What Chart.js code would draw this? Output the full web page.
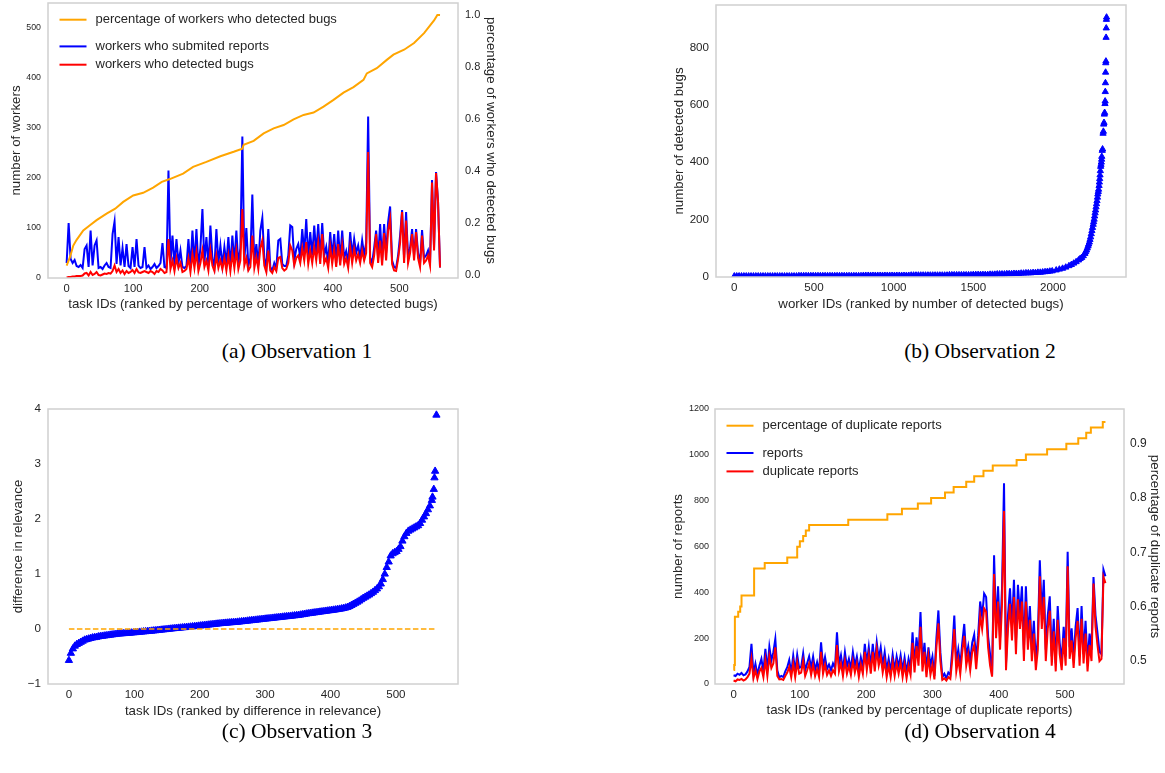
<!DOCTYPE html>
<html>
<head>
<meta charset="utf-8">
<script src="https://cdn.jsdelivr.net/npm/chart.js@4"></script>
<style>
  body { margin: 0; background: #fff; width: 1165px; height: 773px; position: relative; overflow: hidden; }
  canvas { position: absolute; }
  .cap { position: absolute; font-family: "Liberation Serif", "Times New Roman", serif; font-size: 21.5px;
         line-height: 22px; color: #000; transform: translateX(-50%); white-space: nowrap; }
</style>
</head>
<body>
<canvas id="obs1" style="left:0;top:0" width="520" height="320"></canvas>
<canvas id="obs2" style="left:640px;top:0" width="500" height="320"></canvas>
<canvas id="obs3" style="left:0;top:390px" width="520" height="340"></canvas>
<canvas id="obs4" style="left:640px;top:390px" width="525" height="340"></canvas>
<div class="cap" style="left:297px;top:340px">(a) Observation 1</div>
<div class="cap" style="left:980px;top:340px">(b) Observation 2</div>
<div class="cap" style="left:297px;top:720px">(c) Observation 3</div>
<div class="cap" style="left:980px;top:720px">(d) Observation 4</div>
<script>
// ---- (a) workers per task, ranked by share of workers who detected bugs ----
const taskIdsA = Array.from({ length: 188 }, (_, i) => i * 3);
const submittedA = [
  30,110,38,30,36,24,22,26,20,58,
  65,22,95,25,65,75,20,22,18,25,
  30,22,20,88,113,28,82,25,60,22,
  68,24,20,62,22,78,25,20,22,62,
  20,25,18,22,28,20,24,30,70,22,
  20,215,30,85,25,78,30,55,22,20,
  24,78,20,95,28,98,22,60,138,30,
  82,25,105,40,22,98,30,65,25,62,
  28,82,22,85,30,95,28,60,283,35,
  100,25,40,167,30,68,25,95,120,40,
  20,98,22,15,30,20,75,78,28,24,
  24,45,105,102,35,58,68,40,98,50,
  118,40,92,45,105,50,108,40,110,45,
  62,30,92,40,88,30,95,35,95,40,
  54,30,92,45,78,50,65,40,75,45,
  70,323,41,30,60,95,40,108,35,108,
  50,112,143,35,22,20,45,85,136,40,
  132,41,60,98,45,98,50,30,96,40,
  45,55,30,196,60,212,153,21
];
const detectedA = [
  1,2,2,3,3,4,4,4,5,9,
  10,5,12,6,8,12,6,5,7,9,
  8,10,9,14,25,12,18,10,15,8,
  14,10,12,16,10,18,11,10,12,14,
  12,10,14,12,8,14,12,18,15,10,
  12,78,18,35,14,40,20,30,12,14,
  18,40,12,48,20,52,14,30,55,22,
  35,15,55,25,14,45,20,35,18,40,
  15,45,14,50,20,55,18,35,138,25,
  40,15,22,85,20,42,18,60,75,25,
  12,55,15,10,22,14,40,42,20,15,
  18,30,65,55,25,40,45,30,60,35,
  72,28,55,30,62,35,71,28,88,30,
  40,20,62,28,58,22,68,25,65,28,
  40,20,62,30,58,35,48,30,55,35,
  50,252,30,22,45,88,30,75,25,90,
  35,95,118,28,15,14,38,70,132,30,
  115,30,50,88,35,92,40,22,85,30,
  35,45,25,191,55,210,153,21
];
const pctIdsA = [0,5,10,15,25,35,45,60,73,85,100,115,130,143,155,175,190,210,231,251,264,266,281,296,311,326,341,356,371,386,401,416,431,446,451,466,481,491,507,522,537,552,557,561];
const pctDetectedA = [0.035,0.067,0.112,0.134,0.17,0.19,0.21,0.235,0.254,0.28,0.305,0.315,0.335,0.357,0.368,0.389,0.415,0.434,0.456,0.473,0.485,0.5,0.515,0.544,0.563,0.576,0.598,0.615,0.624,0.647,0.673,0.701,0.722,0.75,0.775,0.795,0.827,0.847,0.866,0.892,0.93,0.979,1.0,1.0];

// ---- (b) detected bugs per worker ----
const workerIdsB = Array.from({ length: 134 }, (_, i) => i * 15).concat([
  2020,2040,2060,2080,2100,2115,2130,2145,2160,2170,2180,2190,2200,2205,2210,2215,2220,2224,2228,2232,
  2236,2240,2244,2248,2252,2255,2258,2261,2264,2267,2270,2273,2276,2279,2281,2284,2286,2289,2291,2293,
  2295,2297,2299,2301,2303,2305,2306,2309,2311,2314,2316,2318,2320,2322,2324,2326,2327,2328,2329,2330,
  2331,2332,2333,2334,2335,2336
]);
const bugsB = [
  1,1,1,1,1,1,1,1,1,1,1,1,1,1,1,1,1,1,1,1,1,1,1,1,1,1,1,
  2,2,2,2,2,2,2,2,2,2,2,2,2,2,2,2,2,2,2,2,2,2,2,2,2,2,2,
  3,3,3,3,3,3,3,3,3,3,3,3,3,3,3,3,3,3,3,3,
  4,4,4,4,4,4,4,4,4,4,4,4,4,4,4,4,
  5,5,5,5,5,5,5,5,5,5,
  6,6,6,6,6,6,6,
  7,7,7,8,8,8,8,
  9,9,9,10,10,10,11,
  11,12,12,12,13,13,14,
  14,15,16,17,18,19,
  22,25,28,32,37,41,46,51,57,62,66,72,80,86,92,99,106,113,120,129,
  138,149,160,171,182,191,200,211,222,232,243,254,265,277,288,297,305,318,330,342,
  355,370,385,392,400,410,420,441,446,501,508,533,539,568,574,605,614,647,678,715,
  748,754,837,870,900,908
];

// ---- (c) difference in relevance ----
const taskIdsC = Array.from({ length: 187 }, (_, i) => i * 3).concat([556, 559, 560, 562]);
const relevanceDiffC = [
  -0.57,-0.44,-0.36,-0.31,-0.28,-0.26,-0.24,-0.22,-0.2,-0.19,
  -0.18,-0.17,-0.16,-0.155,-0.15,-0.14,-0.135,-0.13,-0.125,-0.12,
  -0.115,-0.11,-0.105,-0.1,-0.095,-0.09,-0.088,-0.085,-0.082,-0.08,
  -0.077,-0.074,-0.07,-0.067,-0.064,-0.06,-0.057,-0.054,-0.05,-0.047,
  -0.044,-0.04,-0.037,-0.033,-0.03,-0.026,-0.022,-0.018,-0.014,-0.01,
  -0.006,-0.002,0.002,0.006,0.01,0.013,0.017,0.02,0.024,0.027,
  0.031,0.035,0.038,0.042,0.046,0.05,0.054,0.058,0.062,0.066,
  0.07,0.074,0.078,0.082,0.086,0.09,0.094,0.098,0.102,0.106,
  0.108,0.111,0.114,0.117,0.12,0.123,0.126,0.13,0.134,0.138,
  0.142,0.146,0.15,0.154,0.158,0.162,0.166,0.17,0.174,0.178,
  0.182,0.186,0.19,0.194,0.198,0.202,0.206,0.21,0.214,0.218,
  0.222,0.226,0.23,0.234,0.238,0.242,0.246,0.25,0.256,0.262,
  0.268,0.274,0.28,0.285,0.29,0.295,0.3,0.305,0.31,0.315,
  0.32,0.325,0.33,0.335,0.34,0.345,0.35,0.356,0.362,0.368,
  0.376,0.384,0.395,0.41,0.43,0.45,0.47,0.49,0.51,0.535,
  0.56,0.58,0.6,0.62,0.645,0.67,0.7,0.73,0.77,0.82,
  0.9,1.0,1.12,1.22,1.33,1.37,1.39,1.41,1.45,1.5,
  1.6,1.68,1.74,1.78,1.8,1.82,1.84,1.86,1.88,1.92,
  1.98,2.04,2.1,2.17,2.24,2.34,2.54,
  2.4,2.75,2.87,3.89
];
const zeroLineIdsC = [0, 561];
const zeroLineC = [0, 0];

// ---- (d) reports per task, ranked by share of duplicates ----
const taskIdsD = Array.from({ length: 188 }, (_, i) => i * 3);
const reportsD = [
  38,35,45,40,48,38,42,55,75,175,
  45,88,40,80,110,55,153,60,163,102,
  139,197,60,29,35,30,55,73,105,50,
  124,55,128,70,75,134,60,90,120,70,
  120,60,95,55,182,75,118,65,85,60,
  90,70,226,85,125,60,139,75,110,65,
  139,80,120,60,115,70,175,90,161,75,
  175,85,182,110,160,80,139,60,110,55,
  128,60,120,75,125,60,115,50,110,70,
  226,80,204,120,314,90,180,60,160,80,
  120,35,200,321,139,30,45,25,50,40,
  150,299,90,150,80,180,262,120,165,100,
  180,215,110,212,360,295,395,380,207,130,
  40,562,250,426,200,420,876,90,300,418,
  250,455,180,433,300,426,150,426,200,340,
  150,276,100,200,540,300,455,150,300,383,
  120,285,90,340,180,100,250,120,577,160,
  243,110,250,331,120,340,130,276,90,220,
  150,467,301,223,140,130,499,470
];
const duplicatesD = [
  15,12,20,18,22,15,20,30,45,110,
  25,60,22,55,70,30,105,35,120,70,
  90,160,35,20,22,18,35,50,75,30,
  90,30,95,45,50,100,35,60,90,40,
  85,35,65,30,140,45,85,40,60,35,
  60,45,170,55,90,35,100,45,80,40,
  100,50,90,30,85,45,140,60,125,45,
  140,55,150,80,120,50,100,30,80,30,
  95,35,90,45,95,30,85,25,80,40,
  180,50,165,80,250,55,140,30,120,40,
  85,20,160,265,100,18,25,15,30,22,
  110,240,55,110,45,140,210,80,130,60,
  140,170,65,170,300,240,330,315,160,80,
  32,480,200,360,150,350,755,60,240,350,
  190,380,130,370,240,360,100,360,150,280,
  100,220,60,150,470,240,380,100,240,320,
  80,230,55,280,130,60,200,80,514,110,
  190,70,200,275,80,285,90,220,55,170,
  100,438,250,170,100,110,467,440
];
const pctIdsD = [0,1,2,7,10,12,31,47,81,96,100,105,109,114,173,232,254,278,298,319,332,351,363,377,391,427,441,473,502,520,532,539,557,561];
const pctDuplicateD = [0.483,0.492,0.581,0.59,0.60,0.62,0.67,0.68,0.69,0.71,0.72,0.73,0.74,0.75,0.76,0.77,0.78,0.79,0.80,0.81,0.82,0.83,0.84,0.85,0.86,0.87,0.88,0.89,0.90,0.91,0.92,0.93,0.94,0.94];

const FONT = '"Liberation Sans", Arial, sans-serif';
const INK = '#262626';
const BLUE = '#0000ff', RED = '#ff0000', ORANGE = '#ffa500';
Chart.defaults.font.family = FONT;
Chart.defaults.color = INK;
Chart.defaults.animation = false;

const pts = (xs, ys) => ys.map((y, i) => ({ x: xs[i], y: y }));
const plain = v => String(v);
const oneDec = v => v.toFixed(1);
const minus = v => (v < 0 ? '\u2212' + Math.abs(v) : String(v));

// light grey box round the plot area
const frame = {
  id: 'frame',
  afterDatasetsDraw(chart) {
    const a = chart.chartArea, ctx = chart.ctx;
    ctx.save();
    ctx.strokeStyle = '#d0d0d0';
    ctx.lineWidth = 1.5;
    ctx.strokeRect(a.left, a.top, a.right - a.left, a.bottom - a.top);
    ctx.restore();
  }
};

// legend drawn inside the plot, top-left, like matplotlib's loc=2
const insideLegend = {
  id: 'insideLegend',
  afterDraw(chart, args, opts) {
    if (!opts.items) return;
    const a = chart.chartArea, ctx = chart.ctx;
    ctx.save();
    ctx.font = '13px ' + FONT;
    ctx.textBaseline = 'middle';
    opts.items.forEach(it => {
      const ds = chart.data.datasets[it.index];
      const y = a.top + it.dy;
      ctx.strokeStyle = ds.borderColor;
      ctx.lineWidth = 2;
      ctx.beginPath();
      ctx.moveTo(a.left + 11.5, y);
      ctx.lineTo(a.left + 38.5, y);
      ctx.stroke();
      ctx.fillStyle = INK;
      ctx.fillText(ds.label, a.left + 47.5, y);
    });
    ctx.restore();
  }
};

function axis(o) {
  const vertical = o.position !== 'bottom';
  const ticks = { includeBounds: false, padding: o.pad, color: INK,
                  font: { size: o.size }, maxRotation: 0, autoSkip: false, callback: o.fmt || plain };
  if (o.step) ticks.stepSize = o.step;
  return {
    type: 'linear', position: o.position, min: o.min, max: o.max,
    grid: { display: false, drawTicks: false },
    border: { display: false },
    ticks: ticks,
    title: { display: true, text: o.title, color: INK, font: { size: 13.3 }, padding: o.tpad },
    afterFit: s => {
      if (vertical) s.width = o.box; else s.height = o.box;
      s.paddingTop = s.paddingBottom = s.paddingLeft = s.paddingRight = 0;
    }
  };
}

function lineSet(label, data, color, axisId) {
  return { label: label, data: data, borderColor: color, backgroundColor: color, borderWidth: 2,
           pointRadius: 0, tension: 0, yAxisID: axisId || 'y' };
}

const basePlugins = { legend: { display: false }, tooltip: { enabled: false } };

// (a)
new Chart(document.getElementById('obs1'), {
  type: 'line',
  data: {
    datasets: [
      lineSet('percentage of workers who detected bugs', pts(pctIdsA, pctDetectedA), ORANGE, 'y1'),
      lineSet('workers who detected bugs', pts(taskIdsA, detectedA), RED),
      lineSet('workers who submited reports', pts(taskIdsA, submittedA), BLUE)
    ]
  },
  options: {
    responsive: false,
    layout: { padding: { top: 3, left: 0, right: 0, bottom: 0 } },
    scales: {
      x: axis({ position: 'bottom', min: -28, max: 588, step: 100, size: 11.2, pad: 4, box: 42,
                title: 'task IDs (ranked by percentage of workers who detected bugs)', tpad: { top: 0, bottom: 8 } }),
      y: axis({ position: 'left', min: 0, max: 550, step: 100, size: 8.8, pad: 7, box: 48,
                title: 'number of workers', tpad: { top: 8, bottom: 0 } }),
      y1: axis({ position: 'right', min: -0.013, max: 1.046, step: 0.2, size: 11, pad: 7, box: 62, fmt: oneDec,
                 title: 'percentage of workers who detected bugs', tpad: { top: 21, bottom: 0 } })
    },
    plugins: Object.assign({}, basePlugins, {
      insideLegend: { items: [{ index: 0, dy: 16.7 }, { index: 2, dy: 43.4 }, { index: 1, dy: 61.7 }] }
    })
  },
  plugins: [frame, insideLegend]
});

// (b)
new Chart(document.getElementById('obs2'), {
  type: 'scatter',
  data: {
    datasets: [{
      label: 'detected bugs', data: pts(workerIdsB, bugsB), pointStyle: 'triangle',
      pointRadius: 3.6, borderWidth: 1, borderColor: BLUE, backgroundColor: BLUE
    }]
  },
  options: {
    responsive: false,
    layout: { padding: { top: 3, left: 0, right: 14, bottom: 0 } },
    scales: {
      x: axis({ position: 'bottom', min: -115, max: 2458, size: 11.6, pad: 4, box: 43,
                title: 'worker IDs (ranked by number of detected bugs)', tpad: { top: 0, bottom: 8 } }),
      y: axis({ position: 'left', min: -2, max: 951, step: 200, size: 11.6, pad: 7, box: 76,
                title: 'number of detected bugs', tpad: { top: 31.5, bottom: 0 } })
    },
    plugins: basePlugins
  },
  plugins: [frame]
});

// (c)
new Chart(document.getElementById('obs3'), {
  type: 'scatter',
  data: {
    datasets: [
      { type: 'line', label: 'zero', data: pts(zeroLineIdsC, zeroLineC), borderColor: ORANGE,
        borderWidth: 1.5, borderDash: [5.5, 2.5], pointRadius: 0, showLine: true },
      { label: 'difference in relevance', data: pts(taskIdsC, relevanceDiffC), pointStyle: 'triangle',
        pointRadius: 4.2, borderWidth: 1, borderColor: BLUE, backgroundColor: BLUE }
    ]
  },
  options: {
    responsive: false,
    layout: { padding: { top: 19, left: 0, right: 62, bottom: 0 } },
    scales: {
      x: axis({ position: 'bottom', min: -32, max: 595, step: 100, size: 11.6, pad: 4, box: 46,
                title: 'task IDs (ranked by difference in relevance)', tpad: { top: 0, bottom: 11 } }),
      y: axis({ position: 'left', min: -1, max: 4, step: 1, size: 11.6, pad: 7, box: 48, fmt: minus,
                title: 'difference in relevance', tpad: { top: 10, bottom: 0 } })
    },
    plugins: basePlugins
  },
  plugins: [frame]
});

// (d)
new Chart(document.getElementById('obs4'), {
  type: 'line',
  data: {
    datasets: [
      Object.assign(lineSet('percentage of duplicate reports', pts(pctIdsD, pctDuplicateD), ORANGE, 'y1'), { stepped: 'before' }),
      lineSet('duplicate reports', pts(taskIdsD, duplicatesD), RED),
      lineSet('reports', pts(taskIdsD, reportsD), BLUE)
    ]
  },
  options: {
    responsive: false,
    layout: { padding: { top: 19, left: 0, right: 0, bottom: 0 } },
    scales: {
      x: axis({ position: 'bottom', min: -28, max: 589, step: 100, size: 11.4, pad: 4, box: 46,
                title: 'task IDs (ranked by percentage of duplicate reports)', tpad: { top: 0, bottom: 11.5 } }),
      y: axis({ position: 'left', min: 0, max: 1200, step: 200, size: 9, pad: 6, box: 75,
                title: 'number of reports', tpad: { top: 30.5, bottom: 0 } }),
      y1: axis({ position: 'right', min: 0.457, max: 0.964, step: 0.1, size: 12, pad: 6, box: 41, fmt: oneDec,
                 title: 'percentage of duplicate reports', tpad: { top: 2.2, bottom: 0 } })
    },
    plugins: Object.assign({}, basePlugins, {
      insideLegend: { items: [{ index: 0, dy: 16.7 }, { index: 2, dy: 44 }, { index: 1, dy: 62.4 }] }
    })
  },
  plugins: [frame, insideLegend]
});
</script>
</body>
</html>
